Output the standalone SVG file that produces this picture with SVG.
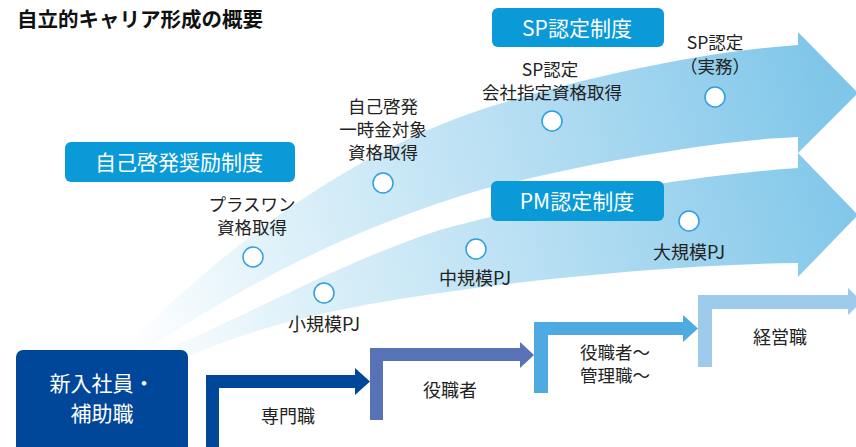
<svg xmlns="http://www.w3.org/2000/svg" width="856" height="447" viewBox="0 0 856 447">
<defs>
<linearGradient id="fan" gradientUnits="userSpaceOnUse" x1="130" y1="350" x2="850" y2="150">
<stop offset="0" stop-color="#ffffff"/>
<stop offset="0.25" stop-color="#dcf0f9"/>
<stop offset="0.6" stop-color="#b3ddf2"/>
<stop offset="1" stop-color="#7fc6e9"/>
</linearGradient>
<style>
.t{font-family:"Noto Sans CJK JP","Noto Sans",sans-serif;font-size:18px;fill:#222;text-anchor:middle}
.m{font-size:17.5px}
.bt{font-family:"Noto Sans CJK JP","Noto Sans",sans-serif;font-size:21px;fill:#fff;text-anchor:middle}
.lb{fill:#0a9ad8}
.dot{fill:#fff;stroke:#2e9fdc;stroke-width:1.5}
</style>
</defs>
<rect width="856" height="447" fill="#fff"/>
<text x="17" y="27" style="font-family:'Noto Sans CJK JP',sans-serif;font-size:20.5px;font-weight:bold;fill:#111">自立的キャリア形成の概要</text>
<g id="connectors">
<path id="sp-arrow" fill="url(#fan)" d="M118,360 L120,353 C200,270 330,160 480,110 C580,78 700,52 798,45 L798,32 L858,93 L798,153 L798,137 C720,140 600,160 480,190 C330,235 230,295 143,352 L140,360 Z"/>
<path id="pm-arrow" fill="url(#fan)" d="M155,360 L157,353 C240,320 340,262 440,230 C570,195 700,175 798,168 L798,153 L858,215 L798,277 L798,263 C640,265 430,290 330,312 C270,325 225,340 190,356 L188,360 Z"/>
<polygon id="step1" fill="#00479a" points="206,447 206,375 355,375 355,368 370,381.5 355,395 355,388 219,388 219,447"/>
<polygon id="step2" fill="#5773b5" points="370,420 370,348 520,348 520,342 534,355 520,368 520,361 383,361 383,420"/>
<polygon id="step3" fill="#4eaae0" points="534,393 534,322 683,322 683,315 698,328.5 683,342 683,335 548,335 548,393"/>
<polygon id="step4" fill="#9ecaec" points="698,367 698,295 848,295 848,288 862,301.5 848,315 848,309 712,309 712,367"/>
</g>
<g id="start">
<rect x="16" y="350" width="172" height="104" rx="7" fill="#00479a"/>
<text class="bt"><tspan x="102" y="391">新入社員・</tspan><tspan x="102" y="421">補助職</tspan></text>
</g>
<g id="label-jiko">
<rect class="lb" x="65" y="142" width="230" height="40" rx="6"/>
<text class="bt" x="179" y="170">自己啓発奨励制度</text>
</g>
<g id="label-sp">
<rect class="lb" x="492" y="8" width="172" height="39" rx="6"/>
<text class="bt" x="577" y="36">SP認定制度</text>
</g>
<g id="label-pm">
<rect class="lb" x="491" y="181" width="173" height="40" rx="6"/>
<text class="bt" x="577" y="209">PM認定制度</text>
</g>
<g id="n-plusone">
<circle class="dot" cx="253" cy="257" r="10"/>
<text class="t m"><tspan x="252" y="211">プラスワン</tspan><tspan x="252" y="234">資格取得</tspan></text>
</g>
<g id="n-jiko">
<circle class="dot" cx="383" cy="183" r="10"/>
<text class="t m"><tspan x="383" y="113">自己啓発</tspan><tspan x="383" y="136">一時金対象</tspan><tspan x="383" y="159">資格取得</tspan></text>
</g>
<g id="n-sp1">
<circle class="dot" cx="552" cy="121" r="10"/>
<text class="t m"><tspan x="550" y="76">SP認定</tspan><tspan x="552" y="99">会社指定資格取得</tspan></text>
</g>
<g id="n-sp2">
<circle class="dot" cx="715" cy="97" r="10"/>
<text class="t m"><tspan x="715" y="49">SP認定</tspan><tspan x="715" y="73">（実務）</tspan></text>
</g>
<g id="n-small">
<circle class="dot" cx="324" cy="293" r="10"/>
<text class="t" x="324" y="331">小規模PJ</text>
</g>
<g id="n-mid">
<circle class="dot" cx="476" cy="249" r="10"/>
<text class="t" x="475" y="285">中規模PJ</text>
</g>
<g id="n-large">
<circle class="dot" cx="689" cy="221" r="10"/>
<text class="t" x="689" y="259">大規模PJ</text>
</g>
<g id="s-senmon"><text class="t" x="288" y="423">専門職</text></g>
<g id="s-yakushoku"><text class="t" x="450" y="397">役職者</text></g>
<g id="s-kanri">
<text class="t m"><tspan x="615" y="359">役職者～</tspan><tspan x="615" y="382">管理職～</tspan></text>
</g>
<g id="s-keiei"><text class="t" x="780" y="344">経営職</text></g>
</svg>
